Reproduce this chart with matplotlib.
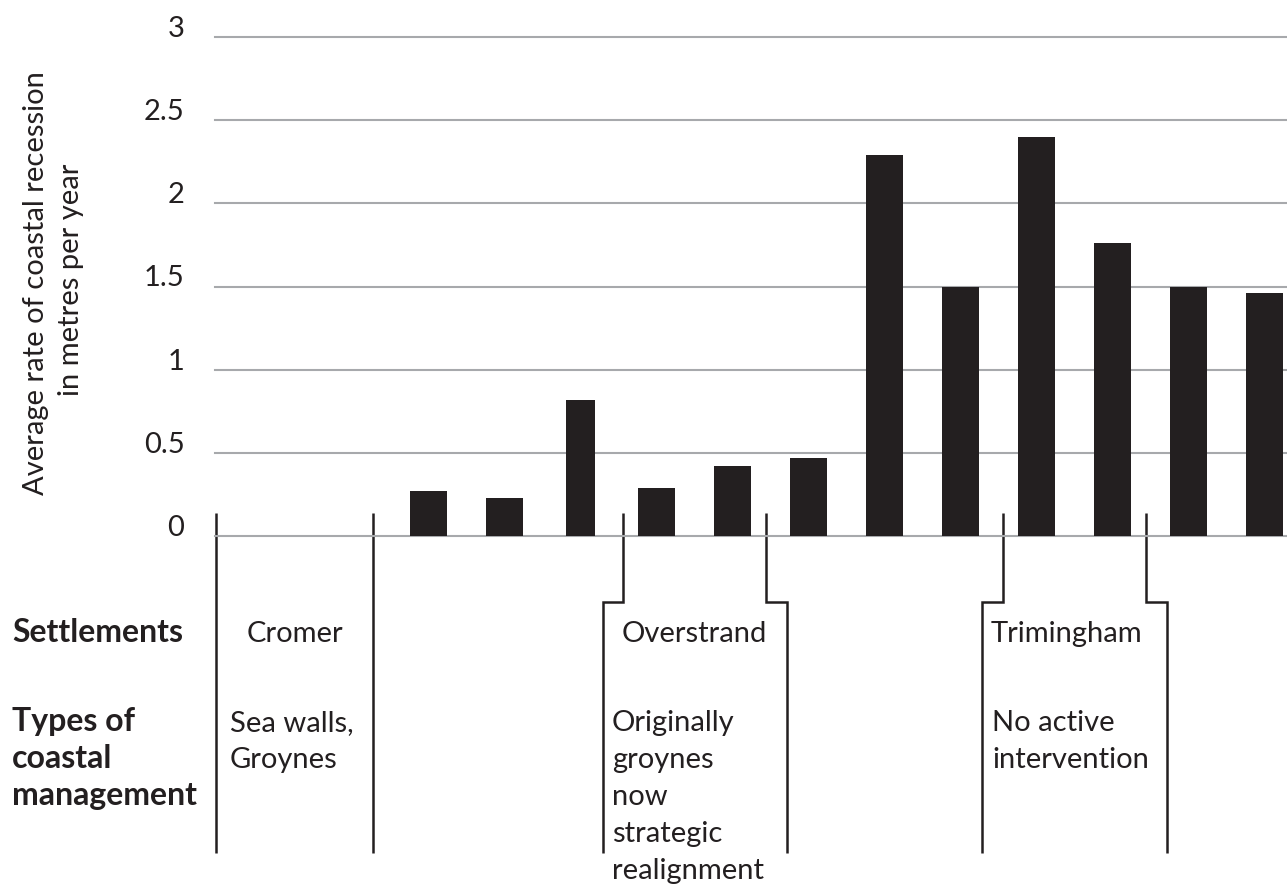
import matplotlib
matplotlib.use("Agg")
import matplotlib.pyplot as plt
import numpy as np

# recession rate per site (m / year), sites ordered west -> east
sites = np.arange(14)
rates = [0, 0, 0.27, 0.23, 0.82, 0.29, 0.42, 0.47, 2.29, 1.50, 2.40, 1.76, 1.50, 1.46]
yticks = [0, 0.5, 1, 1.5, 2, 2.5, 3]
ytick_labels = ["0", "0.5", "1", "1.5", "2", "2.5", "3"]

settlements = ["Cromer", "Overstrand", "Trimingham"]
management = [["Sea walls,", "Groynes"],
              ["Originally", "groynes", "now", "strategic", "realignment"],
              ["No active", "intervention"]]

W, H = 1287, 886
DARK = "#231f20"
GREY = "#a7a9ac"
FONT = "Lato"
FS = 21
FS_BOLD = 23

plt.rcParams['font.family'] = [FONT, 'DejaVu Sans']

fig = plt.figure(figsize=(W / 100, H / 100), dpi=100)

# overlay in pixel coords for the table under the chart
ov = fig.add_axes([0, 0, 1, 1])
ov.set_xlim(0, W)
ov.set_ylim(H, 0)
ov.axis('off')

ax = fig.add_axes([215 / W, 1 - 536 / H, (W - 215) / W, (536 - 37) / H])
ax.patch.set_alpha(0)

widths = [0.49] * 14
widths[4] = 0.38
ax.bar(sites, rates, width=widths, color=DARK, zorder=3)

ax.set_xlim(-0.81, 13.3)
ax.set_ylim(0, 3)
ax.set_yticks(yticks)
ax.set_yticklabels(ytick_labels, fontsize=FS, color=DARK)
for t in ax.get_yticklabels():
    t.set_verticalalignment('baseline')
ax.set_xticks([])
ax.tick_params(axis='y', length=0, pad=22)
ax.yaxis.grid(True, color=GREY, lw=1.5)
ax.set_axisbelow(True)
for gl in ax.get_ygridlines():
    gl.set_clip_on(False)
for s in ax.spines.values():
    s.set_visible(False)

# y label
ov.text(36, 283, "Average rate of coastal recession", rotation=90,
        ha='center', va='center', fontsize=FS, color=DARK)
ov.text(71, 280, "in metres per year", rotation=90,
        ha='center', va='center', fontsize=FS, color=DARK)

# bracket lines
lw = 1.8
brackets = [
    ([216, 216], [513, 853]),
    ([373, 373], [513, 853]),
    ([623, 623, 603, 603], [513, 602, 602, 853]),
    ([766, 766, 787, 787], [513, 602, 602, 853]),
    ([1003, 1003, 982, 982], [513, 602, 602, 853]),
    ([1146, 1146, 1167, 1167], [513, 602, 602, 853]),
]
for xs, ys in brackets:
    ov.plot(xs, ys, color=DARK, lw=lw, solid_capstyle='butt', solid_joinstyle='miter')

# row headers
ov.text(12, 642, "Settlements", fontsize=FS_BOLD, fontweight='bold', color=DARK, va='baseline')
for i, line in enumerate(["Types of", "coastal", "management"]):
    ov.text(12, 731 + 37 * i, line, fontsize=FS_BOLD, fontweight='bold', color=DARK, va='baseline')

# settlement names
ov.text(295, 642, settlements[0], fontsize=FS, color=DARK, ha='center', va='baseline')
ov.text(622, 642, settlements[1], fontsize=FS, color=DARK, va='baseline')
ov.text(991, 642, settlements[2], fontsize=FS, color=DARK, va='baseline')

# management types
for x0, lines in zip([230, 612, 992], management):
    for i, line in enumerate(lines):
        ov.text(x0, 731 + 37 * i, line, fontsize=FS, color=DARK, va='baseline')

fig.savefig("out.png", dpi=100)
